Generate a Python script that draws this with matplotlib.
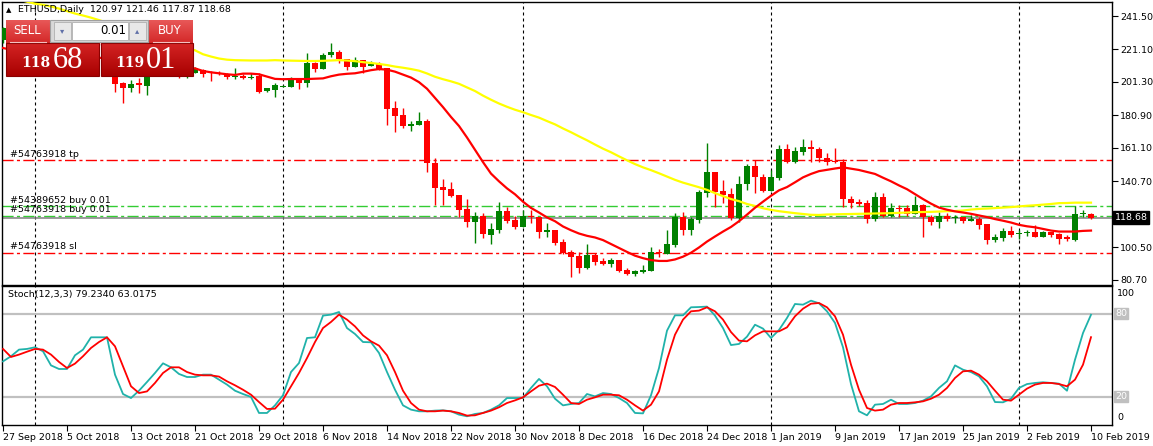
import numpy as np
import matplotlib.pyplot as plt
import matplotlib.colors as mcolors
from matplotlib.patches import Rectangle
from matplotlib.transforms import blended_transform_factory

plt.rcParams['font.family'] = ['DejaVu Sans']

# daily bars, 27 Sep 2018 .. 10 Feb 2019 (bar index 0..136)
opens = [
    227.0, 233.0, 229.0, 226.0, 229.0, 231.0, 225.0, 223.0, 222.0, 227.0,
    228.0, 226.0, 227.0, 226.0, 225.0, 200.9, 197.4, 200.9, 198.9, 207.0,
    210.0, 212.0, 208.0, 206.0, 207.0, 208.6, 207.6, 207.0, 206.2, 204.4,
    205.0, 203.7, 205.0, 195.8, 196.4, 198.3, 198.5, 202.5, 200.5, 213.1,
    209.0, 217.7, 219.4, 215.1, 210.2, 214.7, 211.0, 212.1, 209.6, 185.3,
    181.0, 175.0, 175.1, 177.5, 151.8, 137.6, 136.1, 132.5, 124.0, 116.2,
    119.9, 108.1, 111.2, 122.7, 117.3, 113.2, 119.5, 119.3, 110.2, 111.2,
    103.6, 97.6, 95.3, 87.8, 95.9, 92.3, 90.3, 92.9, 86.8, 84.2,
    85.8, 86.4, 97.6, 96.6, 102.0, 118.9, 111.2, 117.3, 133.9, 146.7,
    135.1, 133.1, 118.3, 139.2, 150.2, 143.2, 135.1, 142.6, 160.3, 152.8,
    158.9, 161.5, 160.3, 154.8, 153.4, 152.6, 130.0, 128.4, 127.4, 117.7,
    131.1, 119.7, 124.4, 124.4, 121.0, 126.2, 118.9, 116.2, 119.7, 118.3,
    119.3, 116.8, 117.9, 114.8, 105.1, 106.5, 110.6, 108.9, 109.3, 109.7,
    107.1, 109.7, 108.7, 107.1, 105.1, 120.9, 120.97,
]
highs = [
    235.0, 236.0, 232.0, 231.0, 233.0, 232.0, 228.0, 226.0, 229.0, 230.0,
    231.0, 228.0, 229.0, 228.0, 227.0, 201.0, 202.5, 203.5, 209.0, 212.0,
    214.0, 213.0, 209.0, 208.0, 210.2, 209.0, 208.0, 208.2, 207.0, 209.6,
    206.0, 206.6, 206.6, 197.6, 200.5, 199.5, 204.6, 202.8, 218.8, 213.3,
    218.8, 224.8, 220.8, 215.1, 216.3, 214.7, 214.1, 213.3, 209.6, 189.7,
    185.3, 177.5, 183.2, 178.8, 155.2, 142.2, 140.6, 132.5, 130.0, 122.3,
    121.7, 115.2, 128.0, 125.4, 119.7, 123.4, 123.4, 119.3, 115.2, 111.4,
    105.7, 99.0, 98.0, 102.6, 96.9, 93.9, 93.9, 92.9, 87.8, 86.8,
    89.8, 101.0, 99.6, 111.2, 121.3, 122.3, 119.3, 135.5, 163.9, 146.7,
    141.6, 136.5, 144.0, 151.4, 153.8, 145.3, 147.7, 162.9, 163.5, 161.9,
    166.4, 166.0, 161.9, 157.8, 161.3, 154.2, 131.9, 129.8, 129.4, 134.3,
    133.5, 127.4, 126.4, 126.4, 131.9, 127.0, 120.3, 121.9, 121.3, 120.3,
    119.3, 120.3, 118.9, 115.0, 108.7, 112.6, 113.8, 111.2, 111.2, 114.2,
    110.6, 109.7, 109.5, 108.1, 125.8, 123.3, 121.46,
]
lows = [
    225.0, 226.0, 224.0, 223.0, 226.0, 222.0, 220.0, 218.0, 221.0, 224.0,
    223.0, 222.0, 224.0, 222.0, 195.4, 188.3, 195.4, 194.4, 193.4, 206.0,
    208.0, 207.0, 203.5, 203.5, 206.6, 204.6, 202.1, 205.6, 203.0, 203.0,
    203.3, 203.0, 194.8, 195.4, 192.4, 198.0, 198.0, 196.8, 198.5, 207.6,
    209.0, 216.7, 212.7, 208.6, 210.2, 206.6, 211.0, 208.6, 175.1, 171.1,
    173.1, 171.7, 175.1, 146.7, 126.4, 126.4, 131.5, 119.3, 113.2, 103.0,
    106.5, 102.4, 109.6, 115.2, 111.6, 113.2, 115.2, 106.5, 107.1, 102.0,
    96.5, 82.8, 85.2, 87.2, 89.8, 89.8, 88.8, 85.8, 84.0, 83.4,
    85.2, 86.0, 95.0, 96.6, 101.0, 108.1, 108.1, 115.2, 131.5, 125.4,
    127.4, 117.5, 116.2, 135.5, 133.9, 134.5, 134.7, 141.6, 152.0, 151.8,
    156.8, 152.8, 152.8, 150.8, 151.8, 125.4, 124.4, 125.8, 115.6, 116.8,
    118.9, 119.3, 118.9, 119.5, 120.9, 107.1, 114.2, 112.2, 116.8, 115.6,
    115.2, 116.8, 111.8, 102.6, 104.1, 104.7, 107.1, 105.5, 107.7, 107.1,
    107.1, 107.1, 102.4, 104.7, 104.7, 118.9, 117.87,
]
closes = [
    234.0, 229.0, 226.0, 229.0, 231.0, 225.0, 223.0, 222.0, 227.0, 228.0,
    226.0, 227.0, 226.0, 225.0, 200.1, 197.8, 200.1, 199.5, 207.0, 210.0,
    212.0, 208.0, 206.0, 207.0, 209.6, 206.2, 206.6, 206.0, 204.6, 204.8,
    203.5, 204.0, 195.4, 197.4, 199.5, 198.6, 202.5, 200.5, 212.7, 209.0,
    217.7, 219.4, 215.1, 210.2, 214.7, 210.6, 212.1, 208.6, 184.9, 180.6,
    174.5, 175.3, 177.5, 151.8, 137.0, 135.5, 132.1, 123.4, 116.2, 119.7,
    108.5, 111.8, 122.7, 116.9, 113.2, 119.7, 119.3, 110.2, 111.2, 103.0,
    97.0, 95.0, 87.8, 95.9, 91.9, 90.3, 92.9, 86.2, 84.2, 86.2,
    86.8, 97.6, 97.2, 102.6, 118.9, 111.2, 117.7, 134.1, 146.7, 134.5,
    132.5, 118.3, 139.2, 150.2, 143.2, 135.1, 143.2, 160.3, 152.8, 159.3,
    161.5, 160.3, 154.8, 152.8, 152.4, 129.8, 127.8, 127.0, 117.7, 131.1,
    119.7, 124.4, 124.0, 120.9, 126.2, 118.9, 116.2, 119.7, 117.9, 119.3,
    116.8, 117.9, 114.2, 105.1, 107.1, 110.6, 108.1, 109.3, 109.7, 107.1,
    109.7, 108.1, 105.7, 105.5, 120.9, 121.3, 118.68,
]

# moving averages (red = fast, yellow = slow)
ma_fast = [
    222, 221, 221, 220, 220, 219, 219, 218, 218, 218,
    217, 217, 216, 216, 215, 214, 213, 212, 212, 211,
    211, 210, 210, 210, 209.6, 208.0, 207.2, 206.6, 206.0, 205.6,
    206.4, 206.4, 206.0, 204.6, 203.2, 203.0, 203.1, 203.1, 203.1, 203.3,
    203.5, 204.8, 205.8, 206.3, 206.6, 207.5, 208.5, 209.2, 208.8, 207.6,
    205.8, 204.0, 201.2, 197.2, 191.6, 186.0, 180.0, 174.5, 167.5, 160.0,
    152.5, 145.5, 140.8, 136.5, 132.9, 128.4, 124.6, 121.8, 118.8, 116.5,
    113.3, 111.0, 109.0, 107.6, 106.6, 105.0, 102.6, 100.2, 97.8, 95.5,
    94.0, 92.8, 92.3, 92.3, 93.2, 94.9, 97.3, 100.5, 104.1, 107.2,
    110.2, 113.0, 116.5, 120.5, 124.7, 128.4, 132.0, 135.3, 137.3, 140.2,
    143.2, 145.3, 147.0, 147.8, 148.6, 149.3, 148.5, 147.7, 146.5, 145.3,
    143.0, 140.8, 138.3, 136.0, 133.0, 130.0, 127.2, 124.8, 123.5, 122.5,
    121.8, 121.0, 120.0, 119.0, 117.8, 116.8, 115.7, 114.3, 113.4, 112.8,
    111.8, 110.8, 110.2, 110.2, 110.2, 110.6, 110.8,
]
ma_slow = [
    254.0, 253.0, 251.5, 250.2, 249.0, 248.3, 247.3, 246.0, 244.5, 243.0,
    241.8, 240.5, 239.0, 237.5, 236.0, 234.0, 232.0, 230.5, 229.0, 227.5,
    226.0, 224.5, 223.0, 221.8, 220.6, 218.2, 216.8, 215.6, 214.9, 214.6,
    214.5, 214.4, 214.4, 214.4, 214.6, 214.4, 214.3, 214.2, 214.1, 214.1,
    214.2, 214.4, 214.6, 214.4, 214.0, 213.4, 212.9, 212.3, 211.6, 210.7,
    210.0, 209.2, 208.2, 206.5, 204.5, 203.0, 201.7, 200.2, 198.0, 195.8,
    193.0, 190.5, 188.2, 186.2, 184.4, 182.9, 181.2, 179.6, 177.5, 175.5,
    173.0, 170.7, 168.2, 165.8, 163.2, 160.7, 158.5, 156.0, 153.6, 151.3,
    149.3, 147.6, 145.7, 143.7, 141.7, 140.0, 138.6, 137.2, 135.6, 133.6,
    131.8, 130.0, 128.7, 127.0, 125.8, 124.4, 123.4, 122.6, 122.0, 121.4,
    120.9, 120.4, 120.3, 120.6, 120.7, 120.8, 120.9, 121.0, 121.1, 121.2,
    121.3, 121.4, 121.6, 121.8, 122.0, 122.1, 122.2, 122.4, 122.6, 122.7,
    123.0, 123.6, 124.0, 124.2, 124.5, 124.8, 125.1, 125.5, 125.9, 126.2,
    126.6, 127.0, 127.5, 127.6, 127.8, 127.8, 127.8,
]

# Stoch(12,3,3)
stoch_k = [
    45.5, 49.2, 54.0, 54.5, 55.7, 52.8, 42.6, 40.0, 40.0, 49.9,
    54.0, 62.9, 62.9, 62.9, 35.9, 21.9, 19.0, 24.3, 30.6, 37.1,
    44.1, 41.2, 36.4, 34.2, 34.2, 35.9, 35.9, 32.3, 28.7, 24.3,
    21.9, 19.8, 8.2, 8.2, 13.7, 21.0, 37.8, 44.3, 62.4, 62.9,
    78.6, 79.3, 81.2, 69.6, 65.3, 59.5, 59.3, 51.6, 37.8, 25.0,
    13.7, 10.6, 9.4, 9.4, 9.9, 10.1, 9.4, 7.0, 5.8, 7.5,
    8.2, 10.6, 13.7, 19.0, 19.0, 19.0, 26.3, 32.8, 27.5, 18.5,
    13.7, 14.7, 15.4, 21.9, 20.2, 22.6, 21.9, 19.0, 15.4, 8.2,
    7.9, 21.0, 40.7, 67.7, 78.8, 78.8, 84.6, 84.8, 85.1, 78.6,
    69.6, 57.3, 58.1, 63.4, 72.0, 69.2, 62.4, 68.2, 76.9, 87.0,
    86.5, 89.4, 87.5, 81.7, 73.3, 55.7, 29.1, 9.4, 6.5, 14.2,
    14.7, 17.8, 14.7, 14.7, 15.4, 17.1, 20.2, 26.3, 31.1, 42.6,
    39.5, 37.8, 34.7, 27.5, 16.1, 15.9, 18.5, 26.3, 29.1, 29.9,
    30.4, 29.9, 29.4, 24.3, 46.7, 66.0, 79.2,
]
stoch_d = [
    54.5, 48.7, 50.4, 52.5, 54.5, 54.0, 50.4, 45.1, 40.7, 43.9,
    49.2, 55.2, 59.5, 62.9, 56.4, 41.9, 27.5, 22.6, 23.8, 29.9,
    37.1, 41.2, 41.2, 37.8, 35.9, 35.4, 35.4, 34.5, 31.1, 28.2,
    25.0, 21.4, 16.1, 11.1, 11.3, 17.8, 27.5, 37.1, 47.9, 59.5,
    69.6, 74.0, 79.3, 75.7, 70.8, 64.3, 60.0, 56.9, 49.9, 37.8,
    24.3, 15.4, 10.6, 9.4, 9.4, 9.9, 9.4, 8.2, 6.3, 6.5,
    8.2, 9.9, 12.3, 15.4, 17.3, 19.5, 23.8, 27.9, 29.4, 27.0,
    21.4, 15.4, 14.7, 17.8, 19.5, 21.4, 21.4, 21.0, 17.8, 13.7,
    9.9, 14.2, 23.8, 46.7, 64.8, 75.7, 81.7, 82.2, 84.6, 81.7,
    75.7, 66.7, 60.5, 60.0, 64.3, 67.2, 67.2, 67.2, 70.1, 78.1,
    83.6, 87.2, 87.7, 84.6, 78.1, 64.8, 43.1, 25.0, 11.8, 9.9,
    10.6, 14.2, 15.4, 15.4, 15.9, 16.6, 18.5, 21.4, 26.3, 33.5,
    38.3, 38.8, 35.9, 31.1, 24.3, 17.8, 17.1, 21.4, 25.8, 28.7,
    29.9, 29.9, 29.1, 27.5, 32.3, 43.1, 63.0,
]

date_labels = ["27 Sep 2018", "5 Oct 2018", "13 Oct 2018", "21 Oct 2018",
               "29 Oct 2018", "6 Nov 2018", "14 Nov 2018", "22 Nov 2018",
               "30 Nov 2018", "8 Dec 2018", "16 Dec 2018", "24 Dec 2018",
               "1 Jan 2019", "9 Jan 2019", "17 Jan 2019", "25 Jan 2019",
               "2 Feb 2019", "10 Feb 2019"]
price_ticks = [241.50, 221.10, 201.30, 180.90, 161.10, 140.70, 120.90, 100.50, 80.70]
month_starts = [4, 35, 65, 96, 127]   # 1 Oct, 1 Nov, 1 Dec, 1 Jan, 1 Feb
tp_level, sl_level = 153.6, 97.0
buy_levels = [125.8, 119.4]
bid = 118.68

W, H = 1153, 446
fig = plt.figure(figsize=(W / 100, H / 100), dpi=100, facecolor='white')


def frac(x0, y0, x1, y1):
    # pixel box with top-left origin -> figure fraction rect
    return [x0 / W, 1 - y1 / H, (x1 - x0) / W, (y1 - y0) / H]


ax = fig.add_axes(frac(2, 2, 1112, 284.5))
ax2 = fig.add_axes(frac(2, 286, 1112, 425))
FS = 6.8

# ---- price panel ----
x = np.arange(len(closes))
o, h, l, c = map(np.array, (opens, highs, lows, closes))
cols = np.where(c >= o, '#008000', '#FF0000')
ax.vlines(x, l, h, colors=cols, lw=1.0, zorder=3)
body = np.maximum(np.abs(c - o), 0.7)
ax.bar(x, body, bottom=(o + c) / 2 - body / 2, width=0.64, color=cols,
       linewidth=0, zorder=4)

ax.plot(x, ma_slow, color='#FFFF00', lw=1.6, zorder=5)
ax.plot(x, ma_fast, color='#FF0000', lw=1.6, zorder=5)

dashdot = (0, (8, 2.4, 2.2, 2.4))
ax.axhline(tp_level, color='#FF0000', lw=1.0, ls=dashdot, zorder=2)
ax.axhline(sl_level, color='#FF0000', lw=1.0, ls=dashdot, zorder=2)
for lv in buy_levels:
    ax.axhline(lv, color='#33CC33', lw=1.0, ls=dashdot, zorder=2)
ax.axhline(bid, color='#808080', lw=1.1, zorder=2)

ax.text(0.9, tp_level + 0.8, '#54763918 tp', fontsize=FS, va='bottom')
ax.text(0.9, buy_levels[0] + 0.7, '#54389652 buy 0.01', fontsize=FS, va='bottom')
ax.text(0.9, buy_levels[1] + 1.2, '#54763918 buy 0.01', fontsize=FS, va='bottom')
ax.text(0.9, sl_level + 1.2, '#54763918 sl', fontsize=FS, va='bottom')

for a in (ax, ax2):
    for m in month_starts:
        a.axvline(m, color='black', lw=0.8, ls=(0, (2.7, 2.7)), zorder=1)
    a.set_xlim(-0.125, 138.625)
    for s in a.spines.values():
        s.set_color('black')
        s.set_linewidth(1.0)

ax.set_ylim(77.95, 250.03)
ax.set_xticks([])
ax.yaxis.tick_right()
ax.set_yticks(price_ticks)
# the 120.90 label sits under the current-price box, so only its tick shows
ax.set_yticklabels(['' if abs(p - 120.90) < 0.01 else f'{p:.2f}' for p in price_ticks])
ax.tick_params(axis='y', direction='out', length=4, width=0.8, pad=2, labelsize=FS)

tr = blended_transform_factory(ax.transAxes, ax.transData)
ax.text(1.0025, bid, '118.68', transform=tr, color='white', fontsize=FS,
        va='center', ha='left', zorder=20, clip_on=False,
        bbox=dict(fc='black', ec='black', pad=1.2))

# ---- stochastic panel ----
ax2.axhline(80, color='#C0C0C0', lw=1.6, zorder=1)
ax2.axhline(20, color='#C0C0C0', lw=1.6, zorder=1)
ax2.plot(x, stoch_k, color='#20B2AA', lw=1.3, zorder=3)
ax2.plot(x, stoch_d, color='#FF0000', lw=1.3, zorder=4)
ax2.set_ylim(-0.5, 100.0)
ax2.set_yticks([])
ax2.set_xticks(np.arange(0, 137, 8))
ax2.set_xticklabels(date_labels, ha='left')
ax2.tick_params(axis='x', direction='out', length=4, width=0.8, pad=1.5, labelsize=FS)

tr2 = blended_transform_factory(ax2.transAxes, ax2.transData)
for lv in (80, 20):
    ax2.text(1.003, lv, str(lv), transform=tr2, color='white', fontsize=FS,
             va='center', ha='left', clip_on=False,
             bbox=dict(fc='#C0C0C0', ec='#C0C0C0', pad=0.8))

# ---- overlay in pixel coordinates: header, trade panel, labels ----
ov = fig.add_axes([0, 0, 1, 1])
ov.axis('off')


def grad_box(x0, y0, x1, y1, top, bottom, edge=None):
    g = np.linspace(0, 1, 64)[:, None, None]
    c0 = np.array(mcolors.to_rgb(top))
    c1 = np.array(mcolors.to_rgb(bottom))
    img = c0 + (c1 - c0) * g
    ov.imshow(img, extent=(x0, x1, y1, y0), aspect='auto',
              interpolation='bilinear', zorder=2)
    if edge:
        ov.add_patch(Rectangle((x0, y0), x1 - x0, y1 - y0, fill=False,
                               ec=edge, lw=0.8, zorder=3))


ov.text(9, 10, '\u25B2', fontsize=5, va='center', ha='center')
ov.text(18, 10, 'ETHUSD,Daily  120.97 121.46 117.87 118.68', fontsize=FS, va='center')
ov.text(8, 295, 'Stoch(12,3,3) 79.2340 63.0175', fontsize=FS, va='center')
ov.text(1117, 293, '100', fontsize=FS, va='center')
ov.text(1117, 418, '0', fontsize=FS, va='center')

# SELL side
grad_box(6, 20, 50, 43, '#E85858', '#D42828')
grad_box(6, 43, 99, 76, '#D42424', '#A80000', edge='#8A0000')
# BUY side
grad_box(148, 20, 193, 43, '#E85858', '#D42828')
grad_box(101, 43, 193, 76, '#D42424', '#A80000', edge='#8A0000')
ov.plot([10, 46], [41.5, 41.5], color='#F4C0C0', lw=0.8, zorder=4)
ov.plot([153, 189], [41.5, 41.5], color='#F4C0C0', lw=0.8, zorder=4)
# lot size control
ov.add_patch(Rectangle((50, 20), 98, 22, fc='#D8D8D8', ec='#A0A0A0', lw=0.8, zorder=3))
ov.add_patch(Rectangle((72, 22), 56, 18, fc='white', ec='#B0B0B0', lw=0.6, zorder=4))
ov.add_patch(Rectangle((54, 22), 17, 18, fc='#E8E8E8', ec='#B0B0B0', lw=0.6, zorder=4))
ov.add_patch(Rectangle((129, 22), 17, 18, fc='#E8E8E8', ec='#B0B0B0', lw=0.6, zorder=4))
ov.text(62.5, 31, '\u25BE', fontsize=6, color='#6070A8', ha='center', va='center', zorder=5)
ov.text(137.5, 31, '\u25B4', fontsize=6, color='#6070A8', ha='center', va='center', zorder=5)
ov.text(126, 31, '0.01', fontsize=8.5, ha='right', va='center', zorder=5)

ov.text(27, 31, 'SELL', fontsize=8.5, color='white', ha='center', va='center', zorder=5)
ov.text(170, 31, 'BUY', fontsize=8.5, color='white', ha='center', va='center', zorder=5)
ov.text(50, 67, '118', fontsize=10, color='white', weight='bold', family='DejaVu Serif',
        ha='right', va='baseline', zorder=5)
ov.text(53, 68, '68', fontsize=22, color='white', family='Liberation Serif',
        ha='left', va='baseline', zorder=5)
ov.text(144, 67, '119', fontsize=10, color='white', weight='bold', family='DejaVu Serif',
        ha='right', va='baseline', zorder=5)
ov.text(146, 68, '01', fontsize=22, color='white', family='Liberation Serif',
        ha='left', va='baseline', zorder=5)

ov.set_xlim(0, W)
ov.set_ylim(H, 0)

fig.savefig('out.png', dpi=100, facecolor='white')
